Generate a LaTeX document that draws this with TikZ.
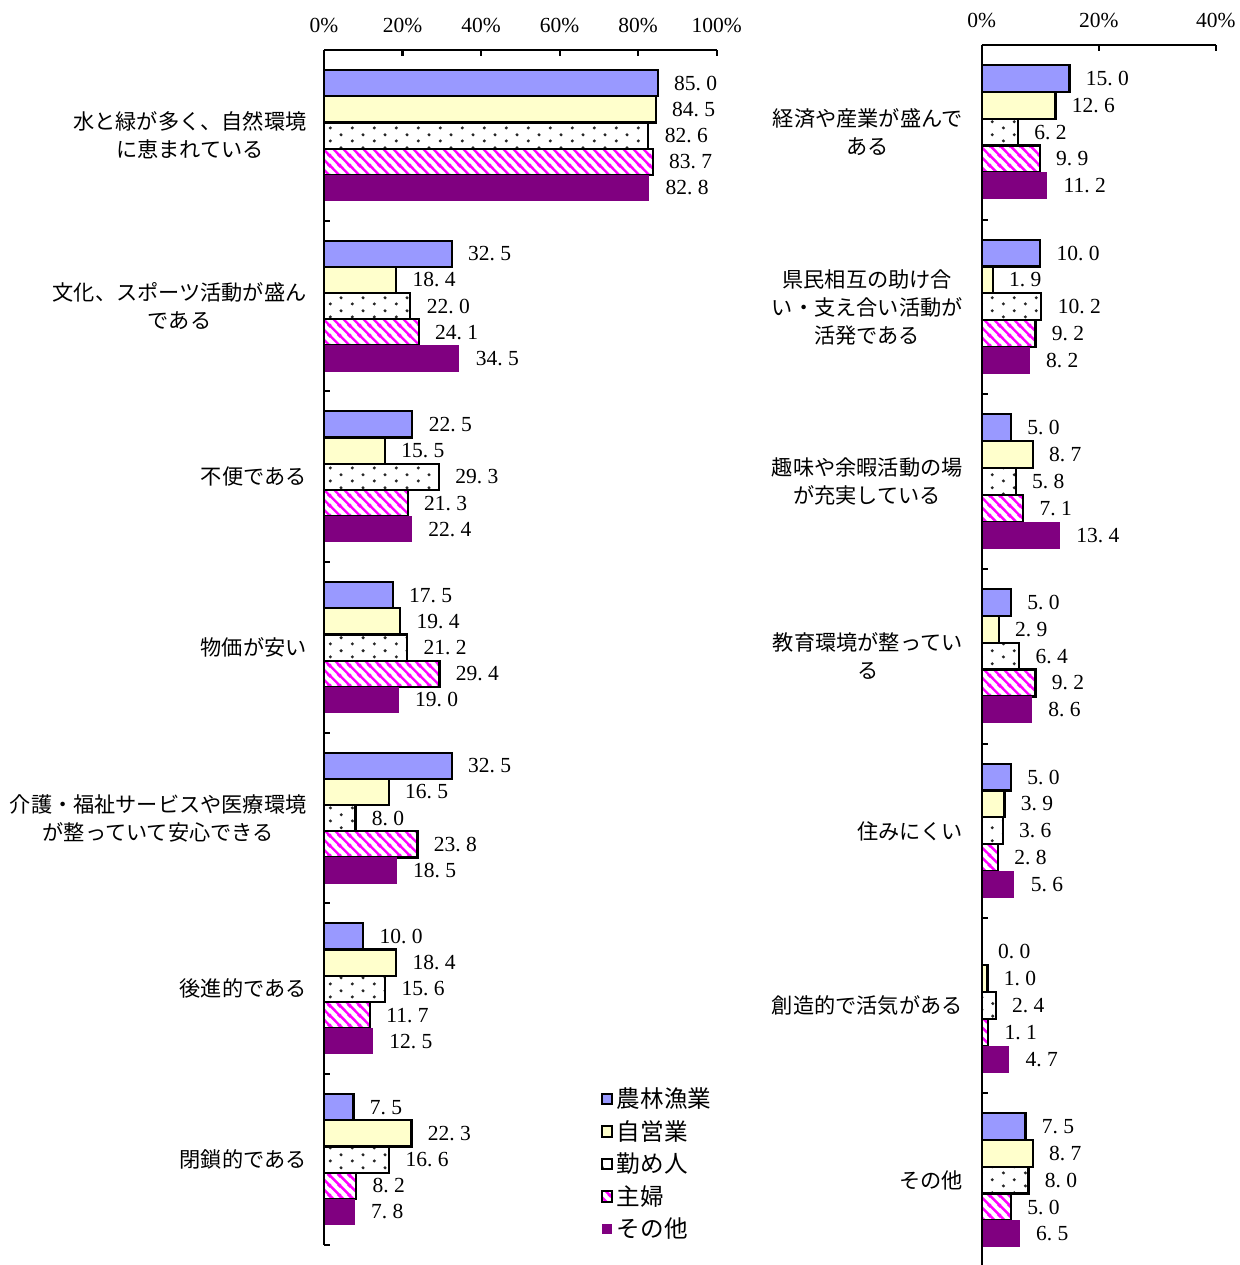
\documentclass[tikz,border=0pt]{standalone}
\usepackage{fontspec}
\setmainfont{Liberation Serif}
\newfontfamily\jp{Noto Sans CJK JP}
\usetikzlibrary{patterns}
\definecolor{cA}{HTML}{9999FF}
\definecolor{cB}{HTML}{FFFFCC}
\definecolor{cD}{HTML}{FF00FF}
\definecolor{cE}{HTML}{800080}
\pgfdeclarepatternformonly{bardots}{\pgfqpoint{0pt}{0pt}}{\pgfqpoint{10.85pt}{6.3pt}}{\pgfqpoint{10.85pt}{6.3pt}}{%
  \pgfpathcircle{\pgfqpoint{2.7pt}{1.575pt}}{0.85pt}%
  \pgfpathcircle{\pgfqpoint{8.125pt}{4.725pt}}{0.85pt}%
  \pgfusepath{fill}}
\pgfdeclarepatternformonly{barstripes}{\pgfqpoint{0pt}{0pt}}{\pgfqpoint{5pt}{5pt}}{\pgfqpoint{5pt}{5pt}}{%
  \pgfsetlinewidth{1.3pt}%
  \pgfpathmoveto{\pgfqpoint{-1pt}{6pt}}\pgfpathlineto{\pgfqpoint{6pt}{-1pt}}%
  \pgfpathmoveto{\pgfqpoint{-1pt}{1pt}}\pgfpathlineto{\pgfqpoint{1pt}{-1pt}}%
  \pgfpathmoveto{\pgfqpoint{4pt}{6pt}}\pgfpathlineto{\pgfqpoint{6pt}{4pt}}%
  \pgfusepath{stroke}}
\tikzset{
  s0/.style={draw=black, line width=1.1pt, fill=cA},
  s1/.style={draw=black, line width=1.1pt, fill=cB},
  s2/.style={draw=black, line width=1.1pt, pattern=bardots, pattern color=black!85},
  s3/.style={draw=black, line width=1.1pt, pattern=barstripes, pattern color=cD},
  s4/.style={fill=cE},
  vlab/.style={anchor=west, inner sep=0pt, font=\fontsize{10.75}{12}\selectfont},
  ticklab/.style={inner sep=0pt, font=\fontsize{10.75}{12}\selectfont},
  cat/.style={anchor=east, inner sep=0pt, align=center, font=\jp\fontsize{10.6}{14}\selectfont},
  leglab/.style={anchor=west, inner sep=0pt, font=\jp\fontsize{11.8}{14}\selectfont},
  axisline/.style={line width=1.1pt},
}
\newcommand\leftgrp[2]{%
  \foreach \a/\b [count=\k from 0] in {#2}{%
    \pgfmathsetmacro\yt{70+#1*170.67+\k*26.2}%
    \pgfmathsetmacro\yb{\yt+26.2}%
    \pgfmathsetmacro\yc{\yt+13.1}%
    \pgfmathsetmacro\xe{324+\a.\b*3.927}%
    \ifdim \a.\b pt>0pt
      \edef\tmp{\noexpand\path[s\k] (324,\yt) rectangle (\xe,\yb);}\tmp
    \fi
    \node[vlab] (lv#1\k) at (\xe+16,\yc) {\a.\kern0.25em\b};
  }}
\newcommand\rightgrp[2]{%
  \foreach \a/\b [count=\k from 0] in {#2}{%
    \pgfmathsetmacro\yt{65+#1*174.67+\k*26.85}%
    \pgfmathsetmacro\yb{\yt+26.85}%
    \pgfmathsetmacro\yc{\yt+13.42}%
    \pgfmathsetmacro\xe{981.7+\a.\b*5.85}%
    \ifdim \a.\b pt>0pt
      \edef\tmp{\noexpand\path[s\k] (981.7,\yt) rectangle (\xe,\yb);}\tmp
    \fi
    \node[vlab] (rv#1\k) at (\xe+16,\yc) {\a.\kern0.25em\b};
  }}
\begin{document}
\begin{tikzpicture}[x=0.5pt,y=-0.5pt]
\useasboundingbox[fill=white] (0,0) rectangle (1240,1265);
% ---------- left chart bars ----------
\leftgrp{0}{85/0,84/5,82/6,83/7,82/8}
\leftgrp{1}{32/5,18/4,22/0,24/1,34/5}
\leftgrp{2}{22/5,15/5,29/3,21/3,22/4}
\leftgrp{3}{17/5,19/4,21/2,29/4,19/0}
\leftgrp{4}{32/5,16/5,8/0,23/8,18/5}
\leftgrp{5}{10/0,18/4,15/6,11/7,12/5}
\leftgrp{6}{7/5,22/3,16/6,8/2,7/8}
% ---------- right chart bars ----------
\rightgrp{0}{15/0,12/6,6/2,9/9,11/2}
\rightgrp{1}{10/0,1/9,10/2,9/2,8/2}
\rightgrp{2}{5/0,8/7,5/8,7/1,13/4}
\rightgrp{3}{5/0,2/9,6/4,9/2,8/6}
\rightgrp{4}{5/0,3/9,3/6,2/8,5/6}
\rightgrp{5}{0/0,1/0,2/4,1/1,4/7}
\rightgrp{6}{7/5,8/7,8/0,5/0,6/5}
% ---------- left axes ----------
\draw[axisline] (324,50) -- (716.7,50);
\foreach \i in {1,...,5} \draw[axisline] (324+\i*78.54,50) -- ++(0,6);
\draw[axisline] (324,50) -- (324,1244.7);
\foreach \k in {1,...,7} \draw[axisline] (324,50+\k*170.67) -- ++(6,0);
\foreach \i/\t in {0/0,1/20,2/40,3/60,4/80,5/100}
  \node[ticklab] (lt\i) at (324+\i*78.54,25) {\t\%};
% ---------- right axes ----------
\draw[axisline] (981.7,45) -- (1215.7,45);
\foreach \i in {1,2} \draw[axisline] (981.7+\i*117,45) -- ++(0,6);
\draw[axisline] (981.7,45) -- (981.7,1265);
\foreach \k in {1,...,6} \draw[axisline] (981.7,45+\k*174.67) -- ++(6,0);
\foreach \i/\t in {0/0,1/20,2/40}
  \node[ticklab] (rt\i) at (981.7+\i*117,20) {\t\%};
% ---------- left category labels ----------
\node[cat] (lc0) at (307,135.3) {水と緑が多く、自然環境\\に恵まれている};
\node[cat] (lc1) at (307,306.0) {文化、スポーツ活動が盛ん\\である};
\node[cat] (lc2) at (307,476.7) {不便である};
\node[cat] (lc3) at (307,647.3) {物価が安い};
\node[cat] (lc4) at (307,818.0) {介護・福祉サービスや医療環境\\が整っていて安心できる};
\node[cat] (lc5) at (307,988.7) {後進的である};
\node[cat] (lc6) at (307,1159.3) {閉鎖的である};
% ---------- right category labels ----------
\node[cat] (rc0) at (963,132.3) {経済や産業が盛んで\\ある};
\node[cat] (rc1) at (963,307.0) {県民相互の助け合\\い・支え合い活動が\\活発である};
\node[cat] (rc2) at (963,481.7) {趣味や余暇活動の場\\が充実している};
\node[cat] (rc3) at (963,656.3) {教育環境が整ってい\\る};
\node[cat] (rc4) at (963,831.0) {住みにくい};
\node[cat] (rc5) at (963,1005.7) {創造的で活気がある};
\node[cat] (rc6) at (963,1180.3) {その他};
% ---------- legend ----------
\foreach \k/\t in {0/農林漁業,1/自営業,2/勤め人,3/主婦,4/その他}{%
  \pgfmathsetmacro\ly{1099+\k*32.5}%
  \edef\tmp{\noexpand\path[s\k, line width=1pt] (601.5,\ly-5.3) rectangle (612,\ly+5.3);}\tmp
  \node[leglab] (leg\k) at (616.5,\ly) {\t};
}
\end{tikzpicture}
\end{document}
